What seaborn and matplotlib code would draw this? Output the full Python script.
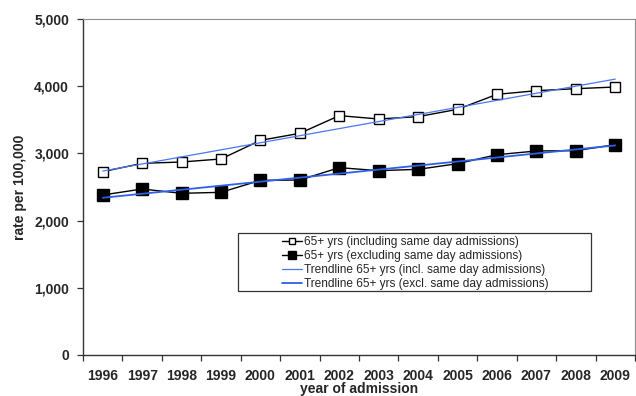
import numpy as np
import pandas as pd
import matplotlib
matplotlib.use("Agg")
import matplotlib.pyplot as plt
import seaborn as sns
from matplotlib.patches import Rectangle
from matplotlib.ticker import FixedLocator, FuncFormatter, NullFormatter

# Hospital admission rates, persons aged 65+, per 100,000
years = [str(y) for y in range(1996, 2010)]
incl_same_day = [2728, 2852, 2872, 2917, 3194, 3299, 3562, 3512, 3547, 3656, 3879, 3933, 3963, 3988]
excl_same_day = [2381, 2470, 2406, 2421, 2599, 2604, 2788, 2743, 2763, 2847, 2981, 3036, 3041, 3130]
y_ticks = [0, 1000, 2000, 3000, 4000, 5000]

series_labels = [
    "65+ yrs (including same day admissions)",
    "65+ yrs (excluding same day admissions)",
    "Trendline 65+ yrs (incl. same day admissions)",
    "Trendline 65+ yrs (excl. same day admissions)",
]

sns.set_theme(style="white")
plt.rcParams["font.family"] = ["Liberation Sans", "DejaVu Sans"]

df = pd.DataFrame({
    "pos": np.arange(len(years)),
    "year": years,
    "incl": incl_same_day,
    "excl": excl_same_day,
})

W, H = 636, 396
fig = plt.figure(figsize=(W / 100, H / 100), dpi=100)
ax = fig.add_axes([83 / W, 1 - 355 / H, (635 - 83) / W, (355 - 19) / H])

# observed series
sns.lineplot(data=df, x="pos", y="incl", ax=ax, color="black", lw=1.0,
             marker="s", markersize=6.5, markerfacecolor="white",
             markeredgecolor="black", markeredgewidth=1.0, zorder=3)
line_incl = ax.get_lines()[-1]
sns.lineplot(data=df, x="pos", y="excl", ax=ax, color="black", lw=1.0,
             marker="s", markersize=8, markerfacecolor="black",
             markeredgecolor="black", markeredgewidth=1.0, zorder=3)
line_excl = ax.get_lines()[-1]

# linear trendlines
sns.regplot(data=df, x="pos", y="incl", ax=ax, scatter=False, ci=None,
            truncate=True, line_kws=dict(color="#4a78f0", lw=0.9, zorder=4))
trend_incl = ax.get_lines()[-1]
sns.regplot(data=df, x="pos", y="excl", ax=ax, scatter=False, ci=None,
            truncate=True, line_kws=dict(color="#2f5fe8", lw=1.3, zorder=4))
trend_excl = ax.get_lines()[-1]

ax.set_xlim(-0.5, len(years) - 0.5)
ax.set_ylim(0, 5000)

# category axis: tick marks between categories, labels at centres
ax.xaxis.set_major_locator(FixedLocator(np.arange(-0.5, len(years), 1.0)))
ax.xaxis.set_major_formatter(NullFormatter())
ax.xaxis.set_minor_locator(FixedLocator(np.arange(len(years))))
ax.set_xticklabels(years, minor=True)
ax.tick_params(axis="x", which="major", direction="out", length=4, width=0.9,
               color="#333333", bottom=True)
ax.tick_params(axis="x", which="minor", length=0, pad=9.8, labelsize=10,
               bottom=True)
for t in ax.get_xticklabels(minor=True):
    t.set_fontweight("bold")

ax.set_yticks(y_ticks)
ax.yaxis.set_major_formatter(FuncFormatter(lambda v, p: f"{int(v):,}"))
ax.tick_params(axis="y", direction="out", length=4, width=0.9, color="#333333",
               pad=6, labelsize=10, left=True)
for t in ax.get_yticklabels():
    t.set_fontweight("bold")

ax.set_xlabel("year of admission", fontsize=10, fontweight="bold", labelpad=-0.2)
ax.set_ylabel("rate per 100,000", fontsize=10, fontweight="bold", labelpad=5)

for side in ("left", "bottom"):
    ax.spines[side].set_color("#333333")
    ax.spines[side].set_linewidth(1.0)
for side in ("top", "right"):
    ax.spines[side].set_color("#8c8c8c")
    ax.spines[side].set_linewidth(0.8)
ax.grid(False)

# legend inside a drawn box
leg_handles = [line_incl, line_excl, trend_incl, trend_excl]
leg = ax.legend(leg_handles, series_labels, loc="upper left",
                bbox_to_anchor=(282 / W, 1 - 236 / H),
                bbox_transform=fig.transFigure, frameon=False,
                fontsize=8.6, borderpad=0, borderaxespad=0,
                handlelength=1.65, handletextpad=0.2, labelspacing=0.17,
                markerscale=0.75)
leg.set_zorder(6)
box = Rectangle((238 / W, 1 - 291 / H), (591 - 238) / W, (291 - 233) / H,
                transform=fig.transFigure, facecolor="white",
                edgecolor="#333333", lw=0.9, zorder=5, clip_on=False)
ax.add_patch(box)

fig.savefig("out.png", dpi=100)
